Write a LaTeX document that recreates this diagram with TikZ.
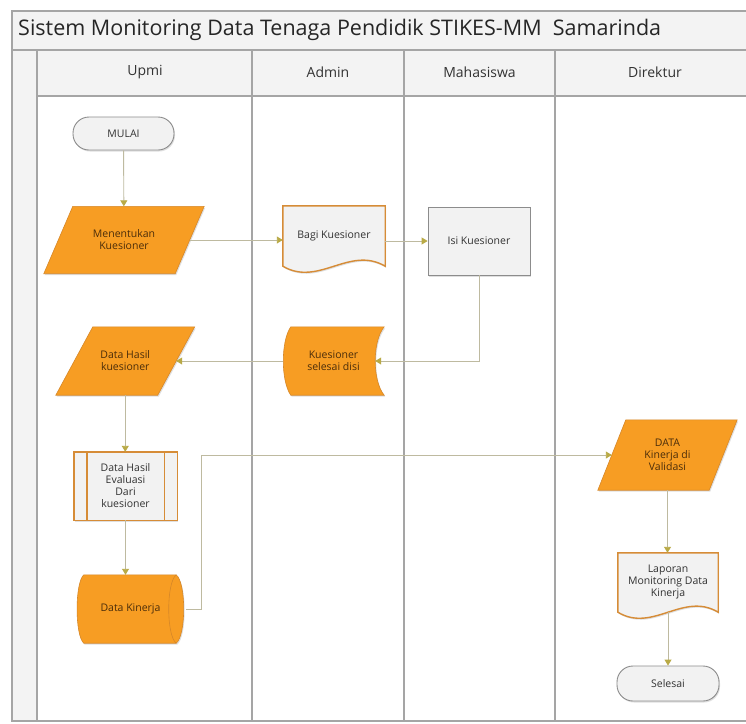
\documentclass[tikz,border=0pt]{standalone}
\usepackage{fontspec}
\setmainfont{Open Sans}
\usetikzlibrary{calc,shadows,arrows.meta}
\definecolor{orgfill}{RGB}{247,157,35}
\definecolor{orgdraw}{RGB}{214,135,40}
\definecolor{ltfill}{RGB}{242,242,242}
\definecolor{docdraw}{RGB}{214,140,55}
\definecolor{greydraw}{RGB}{140,140,140}
\definecolor{conncol}{RGB}{190,186,160}
\definecolor{tipcol}{RGB}{185,170,70}
\definecolor{framecol}{RGB}{165,165,165}
\definecolor{hdrfill}{RGB}{243,243,243}
\definecolor{otext}{RGB}{75,45,10}
\definecolor{gtext}{RGB}{50,50,50}
\pgfdeclarelayer{backlayer}
\pgfdeclarelayer{shapelayer}
\pgfsetlayers{backlayer,shapelayer,main}
\tikzset{
  frameline/.style={draw=framecol,line width=1.2pt},
  lanelabel/.style={font=\fontsize{14}{16}\selectfont,text=gtext},
  txtO/.style={align=center,font=\fontsize{10.5}{12}\selectfont,text=otext,inner sep=0pt},
  txtG/.style={align=center,font=\fontsize{10.5}{12}\selectfont,text=gtext,inner sep=0pt},
  oshape/.style={fill=orgfill,draw=orgdraw,line width=0.6pt,
     drop shadow={opacity=0.25,shadow xshift=1pt,shadow yshift=-1.5pt}},
  lshape/.style={fill=ltfill,draw=docdraw,line width=1.4pt,
     drop shadow={opacity=0.25,shadow xshift=1pt,shadow yshift=-1.5pt}},
  gshape/.style={fill=ltfill,draw=greydraw,line width=0.8pt,
     drop shadow={opacity=0.25,shadow xshift=1pt,shadow yshift=-1.5pt}},
  termbox/.style={txtG,rectangle,rounded corners=16pt,fill=ltfill,draw=greydraw,line width=0.9pt,
     drop shadow={opacity=0.25,shadow xshift=1pt,shadow yshift=-1.5pt}},
  conn/.style={draw=conncol,line width=0.9pt,-{Triangle[width=7pt,length=6pt,color=tipcol]}},
}
\newcommand\drawPara[2]{%
  \begin{pgfonlayer}{shapelayer}
  \path[oshape] ($(#1.north west)+(#2,0)$) -- ($(#1.north east)+(#2,0)$)
     -- ($(#1.south east)+(-#2,0)$) -- ($(#1.south west)+(-#2,0)$) -- cycle;
  \end{pgfonlayer}}
\newcommand\drawDocu[2]{%
  \begin{pgfonlayer}{shapelayer}
  \path[lshape] (#1.south west) -- (#1.north west) -- (#1.north east) -- (#1.south east)
     .. controls ($(#1.south east)!0.35!(#1.south west)+(0,-#2)$) and ($(#1.south east)!0.65!(#1.south west)+(0,#2)$) .. (#1.south west) -- cycle;
  \end{pgfonlayer}}
\begin{document}
\begin{tikzpicture}[x=1pt,y=-1pt]
\useasboundingbox (0,0) rectangle (746,723);
\begin{pgfonlayer}{backlayer}
\fill[white] (0,0) rectangle (746,723);
\fill[hdrfill] (12,11) rectangle (746,50);
\fill[hdrfill] (12,50) rectangle (37,721);
\fill[hdrfill] (37,50) rectangle (746,96);
\draw[frameline] (760,11) -- (12,11) -- (12,721) -- (760,721);
\draw[frameline] (12,50) -- (760,50);
\draw[frameline] (37,50) -- (37,721);
\draw[draw=framecol,line width=2pt] (37,96) -- (760,96);
\draw[frameline] (252,50) -- (252,721);
\draw[frameline] (404,50) -- (404,721);
\draw[frameline] (555,50) -- (555,721);
\end{pgfonlayer}
% titles
\node[anchor=west,font=\fontsize{21.5}{25}\selectfont,text=black!85,inner sep=0pt] (title) at (18,30) {Sistem Monitoring Data Tenaga Pendidik STIKES-MM\ \ Samarinda};
\node[lanelabel] (hupmi) at (145,72) {Upmi};
\node[lanelabel] (hadmin) at (328,72) {Admin};
\node[lanelabel] (hmhs) at (479.5,72) {Mahasiswa};
\node[lanelabel] (hdir) at (655,72) {Direktur};
% nodes
\node[termbox,minimum width=101pt,minimum height=33pt] (mulai) at (123.5,133.5) {MULAI};
\node[txtO,minimum width=131pt,minimum height=67pt] (mk) at (124,240) {Menentukan\\Kuesioner};
\drawPara{mk}{14.5}
\node[txtG,minimum width=102pt,minimum height=60pt] (bagi) at (334,236) {Bagi Kuesioner};
\drawDocu{bagi}{21}
\node[txtG,gshape,minimum width=102pt,minimum height=68pt] (isi) at (479,241) {Isi Kuesioner};
\node[txtO,minimum width=101pt,minimum height=68pt] (ks) at (333.5,361) {Kuesioner\\selesai disi};
\begin{pgfonlayer}{shapelayer}
\path[oshape] ($(ks.north west)+(8,0)$) -- (ks.north east)
   .. controls ($(ks.east)+(-12,-20)$) and ($(ks.east)+(-12,20)$) .. (ks.south east)
   -- ($(ks.south west)+(8,0)$)
   .. controls ($(ks.west)+(-2,20)$) and ($(ks.west)+(-2,-20)$) .. cycle;
\end{pgfonlayer}
\node[txtO,minimum width=101.5pt,minimum height=68pt] (dh) at (125.25,361) {Data Hasil\\kuesioner};
\drawPara{dh}{18.5}
\node[txtG,minimum width=103pt,minimum height=68pt] (ev) at (125.5,486) {Data Hasil\\Evaluasi\\Dari\\kuesioner};
\begin{pgfonlayer}{shapelayer}
\path[lshape] (ev.north west) rectangle (ev.south east);
\draw[docdraw,line width=1.4pt] ($(ev.north west)+(13,0)$) -- ($(ev.south west)+(13,0)$);
\draw[docdraw,line width=1.4pt] ($(ev.north east)+(-13,0)$) -- ($(ev.south east)+(-13,0)$);
\end{pgfonlayer}
\node[txtO,minimum width=111pt,minimum height=68pt] (dk) at (130.5,609) {Data Kinerja};
\begin{pgfonlayer}{shapelayer}
\path[oshape] ($(dk.north west)+(9,0)$) -- ($(dk.north east)+(-10,0)$)
   .. controls ($(dk.north east)+(0,8)$) and ($(dk.south east)+(0,-8)$) .. ($(dk.south east)+(-10,0)$)
   -- ($(dk.south west)+(9,0)$)
   .. controls ($(dk.south west)+(0,-8)$) and ($(dk.north west)+(0,8)$) .. cycle;
\draw[orgdraw,line width=0.6pt] ($(dk.north east)+(-10,0)$)
   .. controls ($(dk.north east)+(-20,8)$) and ($(dk.south east)+(-20,-8)$) .. ($(dk.south east)+(-10,0)$);
\end{pgfonlayer}
\node[txtO,minimum width=111pt,minimum height=70pt] (dv) at (667.5,455) {DATA\\Kinerja di\\Validasi};
\drawPara{dv}{14}
\node[txtG,minimum width=100pt,minimum height=59pt] (lap) at (668,582.5) {Laporan\\Monitoring Data\\Kinerja};
\drawDocu{lap}{21}
\node[termbox,minimum width=102pt,minimum height=35pt] (sel) at (668,683.5) {Selesai};
% connectors
\draw[conn] (mulai) -- (mk);
\draw[conn] (mk.east) -- (mk.east -| bagi.west);
\draw[conn] (isi.west -| bagi.east) -- (isi.west);
\draw[conn] (isi.south) |- ([xshift=-9pt]ks.east);
\draw[conn] (ks.west) -- (ks.west -| dh.east);
\draw[conn] (dh.south) -- (dh.south |- ev.north);
\draw[conn] (ev.south) -- (ev.south |- dk.north);
\draw[conn] (dk.east) -- ([xshift=15pt]dk.east) |- (dv.west);
\draw[conn] (dv.south) -- (dv.south |- lap.north);
\draw[conn] (lap.south) -- (sel.north);
\end{tikzpicture}
\end{document}
